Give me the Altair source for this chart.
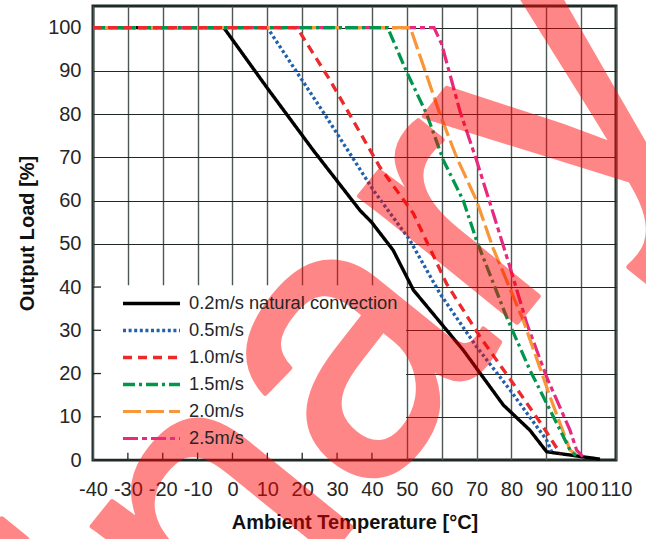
import altair as alt
import pandas as pd

# ---------------- data ----------------
SERIES = ["0.2m/s natural convection", "0.5m/s", "1.0m/s", "1.5m/s", "2.0m/s", "2.5m/s"]
COLORS = ["#000000", "#2161ad", "#ec2a2c", "#00974c", "#f8973a", "#e8297d"]
DASHES = [[1, 0], [3, 2.6], [9, 6], [12, 4, 3, 4], [18, 5], [15, 4, 5, 4]]
WIDTHS = [3.4, 3.2, 3.2, 3.2, 3.2, 3.2]

T_02 = [-40, -2.5, 10, 23.2, 36.6, 39.9, 46.1, 51.9, 66.2, 77.7, 85.3, 90.1, 105.4]
L_02 = [100, 100, 86, 71.6, 57.7, 55.0, 48.5, 39.3, 25.4, 12.7, 6.9, 1.9, 0.2]
T_05 = [-40, 10, 26, 40.5, 50.9, 59.5, 70.0, 79.6, 90.1, 91.5]
L_05 = [100, 100, 80.5, 62.3, 50.8, 38.5, 26.2, 16.2, 4.6, 2.0]
T_10 = [-40, 18.5, 28, 42.3, 51.9, 61.4, 71.0, 80.5, 89.1, 94]
L_10 = [100, 100, 87.8, 67.7, 57.0, 40.8, 28.5, 17.7, 7.7, 1.5]
T_15 = [-40, 44.5, 50.0, 55.7, 60.5, 66.2, 70.0, 78.6, 85.3, 93.0, 96.8, 98.5]
L_15 = [100, 100, 89.7, 80.0, 69.3, 60.0, 50.8, 33.1, 20.8, 8.5, 2.3, 1.0]
T_20 = [-40, 51, 59.5, 64.3, 70.0, 74.8, 83.4, 91.1, 96.8, 99.5]
L_20 = [100, 100, 80, 70, 60, 48.9, 32.3, 14.6, 2.3, 0.8]
T_25 = [-40, 57.8, 60.0, 65.2, 70.0, 74.8, 79.6, 84.4, 90.1, 96.8, 98.7, 100.5]
L_25 = [100, 100, 96.2, 80.8, 69.3, 57.0, 44.6, 31.6, 19.2, 6.9, 2.3, 0.8]

X_TICKS = list(range(-40, 111, 10))
Y_TICKS = list(range(0, 101, 10))
X_DOMAIN = [-40, 110]
Y_DOMAIN = [0, 105]

# legend background panel and inner tick marks (in data units)
PANEL = {"T": [-39.6], "T2": [49.8], "L": [0.35], "L2": [40.4]}
X_INNER_TICKS = list(range(-30, 41, 10))
Y_INNER_TICKS = list(range(10, 41, 10))

WATERMARK = ["Preliminary"]

TS = [T_02, T_05, T_10, T_15, T_20, T_25]
LS = [L_02, L_05, L_10, L_15, L_20, L_25]
DRAW_ORDER = [0, 1, 5, 4, 3, 2]

rows = []
for i in DRAW_ORDER:
    for k, (t, l) in enumerate(zip(TS[i], LS[i])):
        rows.append({"series": SERIES[i], "T": t, "L": l, "k": k})
df = pd.DataFrame(rows)

panel_df = pd.DataFrame(PANEL)
xt_df = pd.DataFrame({"T": X_INNER_TICKS, "L": [0] * len(X_INNER_TICKS), "L2": [1.7] * len(X_INNER_TICKS)})
yt_df = pd.DataFrame({"L": Y_INNER_TICKS, "T": [-40] * len(Y_INNER_TICKS), "T2": [-37.7] * len(Y_INNER_TICKS)})
wm_df = pd.DataFrame({"w": WATERMARK})

# ---------------- style ----------------
W, H = 523, 454
FONT = "Liberation Sans, Arial, sans-serif"
XTITLE = "Ambient Temperature [°C]"
YTITLE = "Output Load [%]"

xscale = alt.Scale(domain=X_DOMAIN, nice=False, zero=False)
yscale = alt.Scale(domain=Y_DOMAIN, nice=False, zero=False)

xaxis = alt.Axis(values=X_TICKS, grid=True, gridColor="#4f5755", gridWidth=1.4,
                 ticks=False, tickSize=0, domain=False, labelFont=FONT, labelFontSize=20,
                 labelColor="#262626", labelPadding=29, labelBaseline="middle",
                 labelFlush=False, labelOverlap=False, labelExpr="toString(datum.value)",
                 titleFont=FONT, titleFontSize=20, titleFontWeight="bold", titleColor="#111111",
                 titleX=261.5, titleY=62, titleBaseline="middle", titleAlign="center")
yaxis = alt.Axis(values=Y_TICKS, grid=True, gridColor="#1e2926", gridWidth=1.2,
                 ticks=False, tickSize=0, domain=False, labelFont=FONT, labelFontSize=20,
                 labelColor="#262626", labelPadding=12, labelFlush=False, labelOverlap=False,
                 titleFont=FONT, titleFontSize=20, titleFontWeight="bold", titleColor="#111111",
                 titleX=-66, titleY=227, titleAngle=270, titleBaseline="middle", titleAlign="center")


def xenc(field="T"):
    return alt.X(f"{field}:Q", scale=xscale, axis=xaxis, title=XTITLE)


def yenc(field="L"):
    return alt.Y(f"{field}:Q", scale=yscale, axis=yaxis, title=YTITLE)


legend = alt.Legend(orient="none", legendX=47, legendY=286, title=None,
                    symbolType="M-3,0L3,0", symbolSize=361, symbolStrokeWidth=3.5,
                    labelFont=FONT, labelFontSize=18.3, labelColor="#262626",
                    labelOffset=26, labelLimit=500, rowPadding=7, padding=0)

panel = alt.Chart(panel_df).mark_rect(fill="white", stroke=None).encode(
    x=xenc("T"), x2="T2:Q", y=yenc("L"), y2="L2:Q")

xticks = alt.Chart(xt_df).mark_rule(color="#1e2926", strokeWidth=1.3).encode(
    x=xenc("T"), y=yenc("L"), y2="L2:Q")
yticks = alt.Chart(yt_df).mark_rule(color="#1e2926", strokeWidth=1.3).encode(
    y=yenc("L"), x=xenc("T"), x2="T2:Q")

lines = alt.Chart(df).mark_line(strokeCap="butt", strokeJoin="miter").encode(
    x=xenc("T"),
    y=yenc("L"),
    color=alt.Color("series:N", scale=alt.Scale(domain=SERIES, range=COLORS), legend=legend),
    strokeDash=alt.StrokeDash("series:N", scale=alt.Scale(domain=SERIES, range=DASHES), legend=legend),
    strokeWidth=alt.StrokeWidth("series:N", scale=alt.Scale(domain=SERIES, range=WIDTHS), legend=None),
    order=alt.Order("k:Q"),
)

watermark = alt.Chart(wm_df).mark_text(
    font=FONT, fontSize=382, fontWeight="normal", fill="#ff0000", stroke="#ff0000",
    strokeWidth=5, strokeJoin="round", opacity=0.47,
    angle=309, align="center", baseline="alphabetic",
).encode(text="w:N", x=alt.value(6.6), y=alt.value(831.8))

chart = alt.layer(panel, xticks, yticks, lines, watermark).properties(
    width=W, height=H,
    autosize=alt.AutoSizeParams(type="none"),
    padding={"left": 93, "top": 6, "right": 30, "bottom": 79},
).configure_view(stroke="#1d2a27", strokeWidth=3)

chart.save("out.html", embed_options={"renderer": "svg", "actions": False})
